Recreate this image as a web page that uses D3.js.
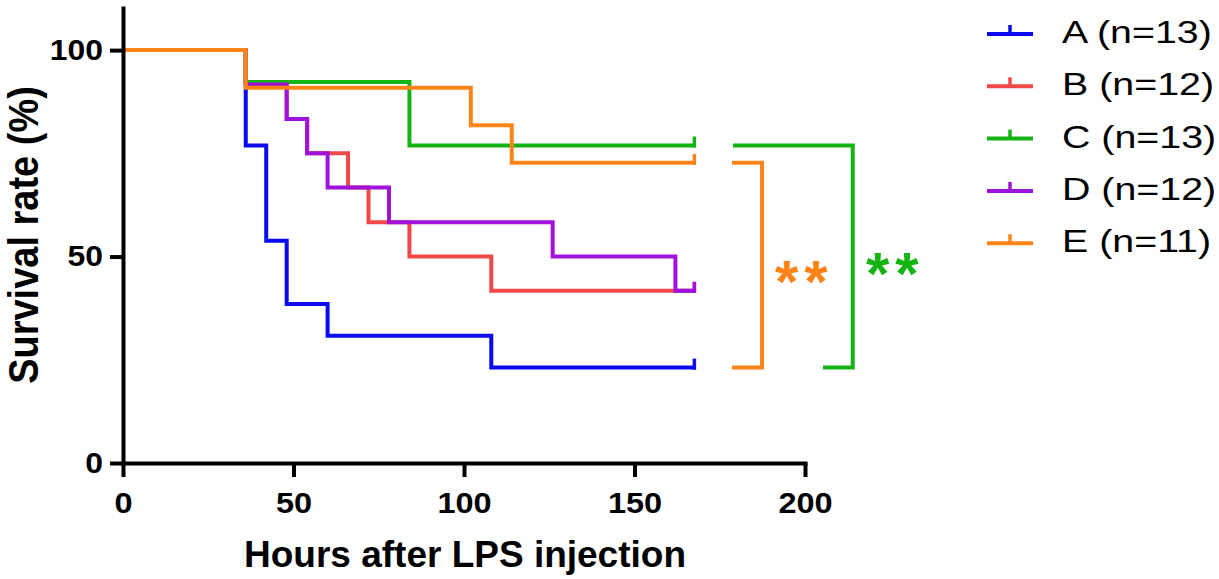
<!DOCTYPE html>
<html>
<head>
<meta charset="utf-8">
<script src="https://cdn.jsdelivr.net/npm/d3@7"></script>
<style>
  body { margin: 0; background: #fff; }
  text { font-family: "Liberation Sans", Arial, sans-serif; }
</style>
</head>
<body>
<div id="chart"></div>
<script>
// groups, legend labels and colours
var groups = ["A", "B", "C", "D", "E"];
var labels = ["A (n=13)", "B (n=12)", "C (n=13)", "D (n=12)", "E (n=11)"];
var colors = ["#0a0af0", "#f04848", "#14b414", "#a012dc", "#ff8418"];

// Kaplan-Meier steps: hours after injection and survival (%)
var hoursA = [0, 36, 42, 48, 60, 108, 168];
var survA  = [100, 76.9, 53.8, 38.5, 30.8, 23.1, 23.1];
var hoursB = [0, 36, 48, 54, 66, 72, 84, 108, 168];
var survB  = [100, 91.7, 83.3, 75, 66.7, 58.3, 50, 41.7, 41.7];
var hoursC = [0, 36, 84, 168];
var survC  = [100, 92.3, 76.9, 76.9];
var hoursD = [0, 36, 48, 54, 60, 78, 126, 162, 168];
var survD  = [100, 91.7, 83.3, 75, 66.7, 58.3, 50, 41.7, 41.7];
var hoursE = [0, 36, 102, 114, 168];
var survE  = [100, 90.9, 81.8, 72.7, 72.7];

var xTicks = [0, 50, 100, 150, 200];
var yTicks = [0, 50, 100];

// significance vs group A
var sigFrom  = ["E", "C"];
var sigLabel = ["**", "**"];

var hours = [hoursA, hoursB, hoursC, hoursD, hoursE];
var surv  = [survA, survB, survC, survD, survE];

var W = 1219, H = 579;

var svg = d3.select("#chart")
  .append("svg")
    .attr("width", W)
    .attr("height", H);

var x = d3.scaleLinear()
  .domain([0, 200])
  .range([123, 805]);

var y = d3.scaleLinear()
  .domain([0, 110.2])
  .range([463, 8]);

// curves
var line = d3.line()
  .x(function(d) { return x(d[0]); })
  .y(function(d) { return y(d[1]); })
  .curve(d3.curveStepAfter);

groups.forEach(function(g, i) {
  var pts = hours[i].map(function(h, j) { return [h, surv[i][j]]; });
  svg.append("path")
    .datum(pts)
    .attr("d", line)
    .attr("fill", "none")
    .attr("stroke", colors[i])
    .attr("stroke-width", 4)
    .attr("stroke-linejoin", "miter");

  // censor mark at the end of follow-up
  var last = pts[pts.length - 1];
  svg.append("line")
    .attr("x1", x(last[0]) - 1.5)
    .attr("x2", x(last[0]) - 1.5)
    .attr("y1", y(last[1]) + 2)
    .attr("y2", y(last[1]) - 9)
    .attr("stroke", colors[i])
    .attr("stroke-width", 3.5);
});

// significance brackets
var endA = survA[survA.length - 1];
var brk = [
  {left: 178.6, right: 187.4, bottomLeft: 178.6, mid: 47.5, tx: 199.8},
  {left: 178.9, right: 214.0, bottomLeft: 205.3, mid: 49.5, tx: 226.5}
];
sigFrom.forEach(function(g, k) {
  var i = groups.indexOf(g);
  var top = surv[i][surv[i].length - 1];
  var b = brk[k];
  svg.append("path")
    .attr("d", "M" + x(b.left) + "," + y(top) +
               "H" + x(b.right) +
               "V" + y(endA) +
               "H" + x(b.bottomLeft))
    .attr("fill", "none")
    .attr("stroke", colors[i])
    .attr("stroke-width", 4);
  svg.append("text")
    .attr("x", x(b.tx))
    .attr("y", y(b.mid) + 35)
    .attr("text-anchor", "middle")
    .attr("font-size", 60)
    .attr("font-weight", "bold")
    .attr("letter-spacing", 6)
    .attr("fill", colors[i])
    .text(sigLabel[k]);
});

// Y axis
var yAxis = svg.append("g")
  .attr("transform", "translate(123,0)")
  .call(d3.axisLeft(y).tickValues(yTicks).tickSize(13).tickSizeOuter(0).tickPadding(7));

// X axis
var xAxis = svg.append("g")
  .attr("transform", "translate(0,463)")
  .call(d3.axisBottom(x).tickValues(xTicks).tickSize(14).tickSizeOuter(0).tickPadding(15));

[xAxis, yAxis].forEach(function(a) {
  a.select(".domain").attr("stroke", "#000").attr("stroke-width", 4).attr("stroke-linecap", "square");
  a.selectAll(".tick line").attr("stroke", "#000").attr("stroke-width", 4);
  a.selectAll(".tick text")
    .attr("font-family", "Liberation Sans, Arial, sans-serif")
    .attr("font-size", 29)
    .attr("font-weight", "bold")
    .attr("fill", "#000");
});
yAxis.selectAll(".tick text")
  .attr("x", -20 / 1.1)
  .attr("transform", "scale(1.1,1)");
xAxis.selectAll(".tick text")
  .attr("transform", "scale(1.12,1)");

// axis titles
svg.append("text")
  .attr("text-anchor", "middle")
  .attr("x", 465)
  .attr("y", 567)
  .attr("font-size", 37)
  .attr("font-weight", "bold")
  .text("Hours after LPS injection");

svg.append("text")
  .attr("text-anchor", "middle")
  .attr("transform", "translate(38,235) scale(1.1,1) rotate(-90)")
  .attr("font-size", 38)
  .attr("font-weight", "bold")
  .text("Survival rate (%)");

// legend
labels.forEach(function(lab, i) {
  var ry = 34 + i * 52.3;
  svg.append("line")
    .attr("x1", 987).attr("x2", 1033)
    .attr("y1", ry).attr("y2", ry)
    .attr("stroke", colors[i])
    .attr("stroke-width", 4);
  svg.append("line")
    .attr("x1", 1010).attr("x2", 1010)
    .attr("y1", ry).attr("y2", ry - 9)
    .attr("stroke", colors[i])
    .attr("stroke-width", 3.5);
  svg.append("text")
    .attr("transform", "translate(1062," + (ry + 9) + ") scale(1.23,1)")
    .attr("font-size", 32)
    .attr("fill", "#000")
    .text(lab);
});
</script>
</body>
</html>
